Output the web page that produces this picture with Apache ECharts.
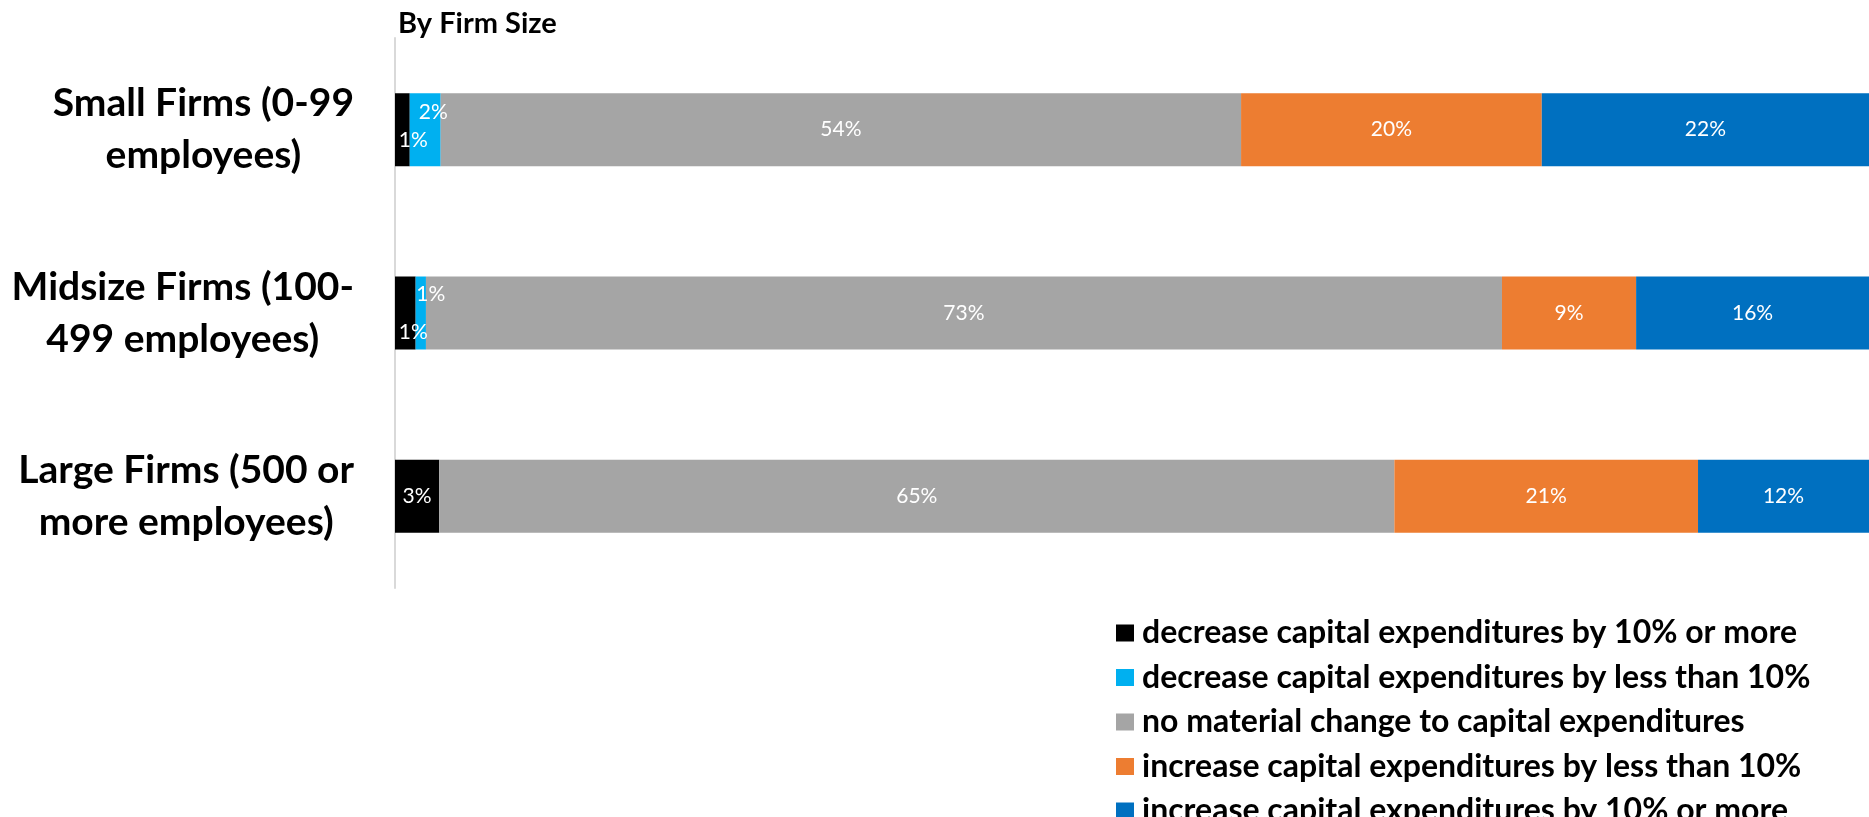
<!DOCTYPE html>
<html>
<head>
<meta charset="utf-8">
<script src="https://cdn.jsdelivr.net/npm/echarts@6/dist/echarts.min.js"></script>
<style>html,body{margin:0;padding:0;background:#fff}#c{width:1869px;height:817px}</style>
</head>
<body>
<div id="c"></div>
<script>
const categories = ['Small Firms (0-99\nemployees)', 'Midsize Firms (100-\n499 employees)', 'Large Firms (500 or\nmore employees)'];
const seriesNames = [
  'decrease capital expenditures by 10% or more',
  'decrease capital expenditures by less than 10%',
  'no material change to capital expenditures',
  'increase capital expenditures by less than 10%',
  'increase capital expenditures by 10% or more'
];
const decrease10 = [1.0, 1.4, 3.0];
const decreaseLess10 = [2.1, 0.7, null];
const noChange = [54.3, 73.0, 64.8];
const increaseLess10 = [20.4, 9.1, 20.6];
const increase10 = [22.2, 15.8, 11.6];
const title = 'By Firm Size';

const colors = ['#000000', '#00b0f0', '#a5a5a5', '#ed7d31', '#0070c0'];
const allData = [decrease10, decreaseLess10, noChange, increaseLess10, increase10];
// label offsets for the narrow segments (style only)
const labelOffsets = {
  '0-0': [11, 11], '1-0': [8, -17],
  '0-1': [8, 19], '1-1': [10, -19]
};
const FONT = 'Lato';

const series = allData.map((arr, si) => ({
  name: seriesNames[si],
  type: 'bar',
  stack: 'total',
  barWidth: 73,
  itemStyle: { color: colors[si] },
  label: {
    show: true,
    position: 'inside',
    color: '#fff',
    fontFamily: FONT,
    fontSize: 21,
    formatter: p => (p.value == null ? '' : Math.round(p.value) + '%')
  },
  data: arr.map((v, ci) => {
    const off = labelOffsets[si + '-' + ci];
    return off ? { value: v, label: { offset: off } } : v;
  })
}));

const chart = echarts.init(document.getElementById('c'));
chart.setOption({
  animation: false,
  title: {
    text: title, left: 393, top: 4,
    textStyle: { fontFamily: FONT, fontWeight: 'bold', fontSize: 29, color: '#000' }
  },
  legend: {
    orient: 'vertical',
    left: 1116, top: 617, height: 260,
    padding: 0,
    itemWidth: 18, itemHeight: 17,
    itemGap: 12.5,
    icon: 'rect',
    textStyle: { fontFamily: FONT, fontWeight: 'bold', fontSize: 32, color: '#000', lineHeight: 22, padding: [0,0,8,3] },
    data: seriesNames
  },
  grid: { left: 395, right: 0, top: 38, bottom: 229 },
  xAxis: { type: 'value', min: 0, max: 100, show: false },
  yAxis: {
    type: 'category', inverse: true, data: categories,
    axisLine: { show: true, lineStyle: { color: '#d9d9d9', width: 2 } },
    axisTick: { show: false },
    axisLabel: {
      margin: 41, align: 'right',
      formatter: v => v.split('\n').map(l => '{c|' + l + '}').join('\n'),
      rich: {
        c: { align: 'center', fontFamily: FONT, fontWeight: 'bold', fontSize: 39, color: '#000', lineHeight: 52 }
      }
    }
  },
  series
});
</script>
</body>
</html>
